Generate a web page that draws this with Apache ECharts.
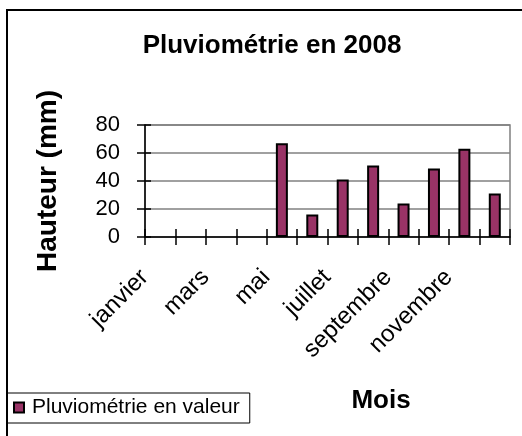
<!DOCTYPE html>
<html>
<head>
    <meta charset="UTF-8" />
    <title>Pluviométrie en 2008</title>
    <script src="https://cdn.jsdelivr.net/npm/echarts@6/dist/echarts.min.js"></script>
    <style>
        html, body { margin: 0; padding: 0; background: #fff; }
    </style>
</head>
<body>
    <div id="chart" style="width: 522px; height: 436px;"></div>
    <script type="text/javascript">
        // data
        var months = ['janvier', 'février', 'mars', 'avril', 'mai', 'juin',
            'juillet', 'août', 'septembre', 'octobre', 'novembre', 'décembre'];
        var rainfall = [null, null, null, null, 67, 16, 41, 51, 24, 49, 63, 31];
        var yTicks = [0, 20, 40, 60, 80];

        var font = 'Liberation Sans, Arial, sans-serif';
        var chart = echarts.init(document.getElementById('chart'));

        // plot box
        var gLeft = 145, gRight = 12, gTop = 125, gBottom = 199;
        var gWidth = 522 - gLeft - gRight;
        var gHeight = 436 - gTop - gBottom;

        var option = {
            animation: false,
            backgroundColor: '#fff',
            textStyle: { fontFamily: font, color: '#000' },
            title: [{
                text: 'Pluviométrie en 2008',
                left: 267, top: 28, textAlign: 'center',
                textStyle: { fontFamily: font, fontSize: 26, fontWeight: 'bold', color: '#000' }
            }, {
                text: 'Mois',
                left: 376, top: 383, textAlign: 'center',
                textStyle: { fontFamily: font, fontSize: 26, fontWeight: 'bold', color: '#000' }
            }],
            legend: {
                data: ['Pluviométrie en valeur'],
                left: 7, top: 393,
                padding: [4, 10, 5, 6],
                itemWidth: 10, itemHeight: 10, itemGap: 5,
                icon: 'rect',
                borderColor: '#000', borderWidth: 1,
                textStyle: { fontFamily: font, fontSize: 21, color: '#000', padding: [0, 0, 0, 3] }
            },
            grid: {
                left: gLeft, right: gRight, top: gTop, bottom: gBottom,
                show: true, borderColor: '#808080', borderWidth: 1.5
            },
            xAxis: [{
                type: 'category',
                data: months,
                position: 'bottom',
                axisLine: { lineStyle: { color: '#000', width: 1.5 } },
                axisTick: { show: true, interval: 0, length: 8, lineStyle: { color: '#000', width: 1.5 } },
                axisLabel: {
                    interval: 1, rotate: 45, margin: 21,
                    fontFamily: font, fontSize: 24, color: '#000',
                    padding: [0, 22, 0, 0]
                },
                splitLine: { show: false }
            }, {
                // second axis moved onto the bottom line, for the ticks pointing up
                type: 'category',
                data: months,
                position: 'top',
                offset: -gHeight,
                axisLine: { show: true, lineStyle: { color: 'rgba(0,0,0,0)' } },
                axisTick: { show: true, interval: 0, length: 8, lineStyle: { color: '#000', width: 1.5 } },
                axisLabel: { show: false },
                splitLine: { show: false }
            }],
            yAxis: [{
                type: 'value',
                min: yTicks[0], max: yTicks[yTicks.length - 1], interval: 20,
                position: 'left',
                name: 'Hauteur (mm)',
                nameLocation: 'middle',
                nameGap: 83,
                nameTextStyle: { fontFamily: font, fontSize: 28, fontWeight: 'bold', color: '#000' },
                axisLine: { show: true, lineStyle: { color: '#000', width: 1.5 } },
                axisTick: { show: true, length: 8, lineStyle: { color: '#000', width: 1.5 } },
                axisLabel: { margin: 25, fontFamily: font, fontSize: 22, color: '#000' },
                splitLine: { show: true, lineStyle: { color: '#808080', width: 1.5 } }
            }, {
                // second axis moved onto the left line, for the ticks pointing right
                type: 'value',
                min: yTicks[0], max: yTicks[yTicks.length - 1], interval: 20,
                position: 'right',
                offset: -gWidth,
                axisLine: { show: true, lineStyle: { color: 'rgba(0,0,0,0)' } },
                axisTick: { show: true, length: 6, lineStyle: { color: '#000', width: 1.5 } },
                axisLabel: { show: false },
                splitLine: { show: false }
            }],
            series: [{
                name: 'Pluviométrie en valeur',
                type: 'bar',
                data: rainfall,
                barWidth: 12,
                itemStyle: { color: '#993366', borderColor: '#000', borderWidth: 2 }
            }],
            graphic: [{
                type: 'rect',
                shape: { x: 7, y: 10, width: 600, height: 500 },
                style: { fill: null, stroke: '#000', lineWidth: 2 },
                silent: true,
                z: -1
            }]
        };

        chart.setOption(option);
    </script>
</body>
</html>
